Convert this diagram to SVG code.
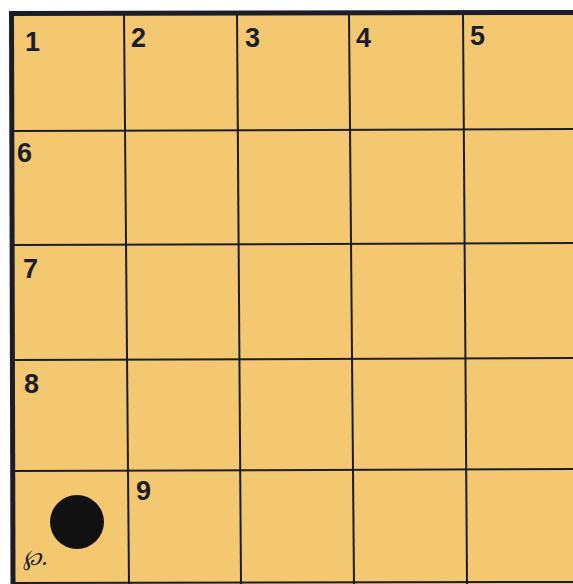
<svg xmlns="http://www.w3.org/2000/svg" width="573" height="584" viewBox="0 0 573 584">
<style>
.g{stroke:#1b1d2b;stroke-width:2;fill:none}
.b{stroke:#1b1d2b;stroke-width:5;fill:none}
.n{font-family:"Liberation Sans",Arial,sans-serif;font-weight:bold;font-size:27px;fill:#1b1d2b}
</style>
<rect x="0" y="0" width="573" height="584" fill="#ffffff"/>
<rect x="11" y="13" width="562" height="571" fill="#f3c870"/>
<g id="grid">
<line class="g" x1="124" y1="13" x2="129" y2="584"/>
<line class="g" x1="237" y1="13" x2="241" y2="584"/>
<line class="g" x1="349" y1="13" x2="354" y2="584"/>
<line class="g" x1="463" y1="13" x2="467" y2="584"/>
<line class="g" x1="11" y1="131" x2="573" y2="129"/>
<line class="g" x1="11" y1="245" x2="573" y2="243"/>
<line class="g" x1="11" y1="360" x2="573" y2="358"/>
<line class="g" x1="11" y1="471" x2="573" y2="469"/>
<line class="g" x1="11" y1="583" x2="573" y2="582"/>
<line class="b" x1="9" y1="13.5" x2="573" y2="12.5"/>
<line class="b" x1="11.5" y1="11" x2="13" y2="584"/>
</g>
<g id="labels">
<text class="n" x="25" y="51">1</text>
<text class="n" x="131" y="47">2</text>
<text class="n" x="245" y="47">3</text>
<text class="n" x="356" y="47">4</text>
<text class="n" x="470" y="45">5</text>
<text class="n" x="17" y="162">6</text>
<text class="n" x="23" y="278">7</text>
<text class="n" x="24" y="393">8</text>
<text class="n" x="136" y="500">9</text>
</g>
<g id="stone">
<circle cx="77" cy="522" r="27" fill="#111111"/>
</g>
<text x="23" y="565" font-family="DejaVu Serif,serif" font-style="italic" font-size="22" fill="#1b1d2b">℘.</text>
</svg>
